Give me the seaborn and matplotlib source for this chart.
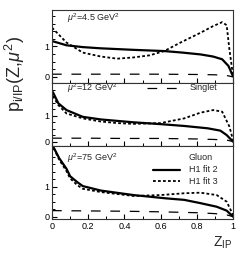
import matplotlib
matplotlib.use("Agg")
import matplotlib.pyplot as plt
from matplotlib.ticker import MultipleLocator, FixedLocator
import seaborn as sns

# values (z_IP, parton density)
z_p1_fit2 = [0.0, 0.08, 0.17, 0.27, 0.45, 0.62, 0.72, 0.82, 0.89, 0.94, 0.975, 1.0]
g_p1_fit2 = [1.18, 1.04, 0.98, 0.94, 0.89, 0.85, 0.80, 0.74, 0.67, 0.58, 0.36, 0.02]
z_p1_fit3 = [0.0, 0.08, 0.17, 0.27, 0.36, 0.45, 0.54, 0.62, 0.71, 0.82, 0.89, 0.94, 0.965, 0.98, 1.0]
g_p1_fit3 = [1.62, 1.13, 0.80, 0.67, 0.60, 0.64, 0.71, 0.85, 1.13, 1.45, 1.67, 1.80, 1.70, 0.91, 0.05]

z_p2_fit2 = [0.005, 0.035, 0.08, 0.17, 0.27, 0.45, 0.60, 0.73, 0.86, 0.93, 0.965, 1.0]
g_p2_fit2 = [1.90, 1.47, 1.21, 0.95, 0.85, 0.74, 0.67, 0.60, 0.51, 0.42, 0.25, 0.0]
z_p2_fit3 = [0.005, 0.035, 0.08, 0.17, 0.27, 0.36, 0.45, 0.60, 0.73, 0.82, 0.89, 0.94, 0.98, 1.0]
g_p2_fit3 = [1.75, 1.40, 1.08, 0.89, 0.77, 0.71, 0.68, 0.71, 0.89, 1.11, 1.21, 1.15, 0.58, 0.06]

z_p3_fit2 = [0.01, 0.04, 0.08, 0.10, 0.14, 0.17, 0.27, 0.45, 0.63, 0.73, 0.82, 0.91, 0.965, 1.0]
g_p3_fit2 = [2.30, 1.95, 1.60, 1.35, 1.15, 1.02, 0.87, 0.72, 0.61, 0.56, 0.45, 0.33, 0.20, 0.0]
z_p3_fit3 = [0.01, 0.04, 0.08, 0.10, 0.14, 0.17, 0.27, 0.45, 0.60, 0.73, 0.82, 0.91, 0.965, 1.0]
g_p3_fit3 = [2.28, 1.90, 1.52, 1.28, 1.05, 0.93, 0.82, 0.69, 0.72, 0.78, 0.80, 0.72, 0.50, 0.06]

z_singlet = [0.0, 0.2, 0.4, 0.6, 0.8, 0.9, 0.97, 1.0]
s_p1 = [0.09, 0.09, 0.09, 0.09, 0.08, 0.07, 0.04, 0.0]
s_p2 = [0.13, 0.13, 0.12, 0.12, 0.10, 0.08, 0.05, 0.0]
s_p3 = [0.20, 0.19, 0.18, 0.16, 0.13, 0.10, 0.05, 0.0]

scales = ["$\\mu^2$=4.5 GeV$^2$", "$\\mu^2$=12 GeV$^2$", "$\\mu^2$=75 GeV$^2$"]
xtick_labels = ["0", "0.2", "0.4", "0.6", "0.8", "1"]

sns.set_style("ticks")
plt.rcParams["font.family"] = ["Liberation Sans", "DejaVu Sans"]
plt.rcParams["mathtext.fontset"] = "custom"
plt.rcParams["mathtext.rm"] = "Liberation Sans"
plt.rcParams["mathtext.it"] = "Liberation Sans:italic"
plt.rcParams["mathtext.sf"] = "Liberation Sans"
plt.rcParams["lines.scale_dashes"] = False

fig = plt.figure(figsize=(2.52, 2.73), dpi=100)
left, width = 52 / 252, 181 / 252
# (top px, bottom px, ylim)
panels = [(10, 83, (-0.2, 2.2)), (83, 146, (-0.17, 2.25)), (146, 219, (-0.08, 2.36))]
data = [
    (z_p1_fit2, g_p1_fit2, z_p1_fit3, g_p1_fit3, s_p1),
    (z_p2_fit2, g_p2_fit2, z_p2_fit3, g_p2_fit3, s_p2),
    (z_p3_fit2, g_p3_fit2, z_p3_fit3, g_p3_fit3, s_p3),
]

axes = []
for i, ((top, bot, ylim), (zf2, gf2, zf3, gf3, sing)) in enumerate(zip(panels, data)):
    ax = fig.add_axes([left, 1 - bot / 273, width, (bot - top) / 273])
    axes.append(ax)
    sns.lineplot(x=z_singlet, y=sing, ax=ax, color="black", linewidth=0.9)
    ax.lines[-1].set_dashes((7, 7))
    sns.lineplot(x=zf3, y=gf3, ax=ax, color="black", linewidth=1.3)
    ax.lines[-1].set_dashes((2, 1.6))
    sns.lineplot(x=zf2, y=gf2, ax=ax, color="black", linewidth=1.6)
    ax.set_xlim(0, 1)
    ax.set_ylim(*ylim)
    ax.set_xlabel("")
    ax.set_ylabel("")
    ax.yaxis.set_major_locator(FixedLocator([0, 1]))
    ax.yaxis.set_minor_locator(MultipleLocator(0.25))
    ax.xaxis.set_major_locator(MultipleLocator(0.2))
    ax.xaxis.set_minor_locator(MultipleLocator(0.1))
    ax.tick_params(which="both", direction="in", colors="black", labelsize=6.5, pad=2)
    ax.tick_params(which="major", length=3.5, width=0.8)
    ax.tick_params(which="minor", length=2.4, width=0.7)
    for sp in ax.spines.values():
        sp.set_linewidth(0.8)
        sp.set_color("#333333")
    if i < 2:
        ax.set_xticklabels([])
    else:
        ax.set_xticks([0, 0.2, 0.4, 0.6, 0.8, 1.0])
        ax.set_xticklabels(xtick_labels)
    h = bot - top
    ypos = [1 - 8 / h, 1 - 5 / h, 1 - 12 / h][i]
    ax.text(0.083, ypos, scales[i], transform=ax.transAxes, fontsize=6.5, va="center", ha="left")

# legend entries drawn by hand like in the original
ax2, ax3 = axes[1], axes[2]
y_s = 1 - 5 / 63
ax2.plot([0.525, 0.69], [y_s, y_s], transform=ax2.transAxes, color="black", lw=0.9, dashes=(7, 7))
ax2.text(0.76, y_s, "Singlet", transform=ax2.transAxes, fontsize=6.5, va="center")
ax3.text(0.755, 1 - 12 / 73, "Gluon", transform=ax3.transAxes, fontsize=6.5, va="center")
y2, y3 = 1 - 24 / 73, 1 - 35 / 73
ax3.plot([0.557, 0.707], [y2, y2], transform=ax3.transAxes, color="black", lw=1.6)
ax3.text(0.755, y2, "H1 fit 2", transform=ax3.transAxes, fontsize=6.5, va="center")
ax3.plot([0.557, 0.707], [y3, y3], transform=ax3.transAxes, color="black", lw=1.3, dashes=(2, 1.6))
ax3.text(0.755, y3, "H1 fit 3", transform=ax3.transAxes, fontsize=6.5, va="center")

fig.text(232 / 252, 1 - 243 / 273, "Z$_{\\mathsf{IP}}$", fontsize=10, ha="right", va="center")
fig.text(15 / 252, 1 - 74 / 273, "p$_{\\mathsf{i/IP}}$(Z,$\\mu^2$)", fontsize=13,
         rotation=90, ha="center", va="center")

fig.savefig("out.png", dpi=100)
